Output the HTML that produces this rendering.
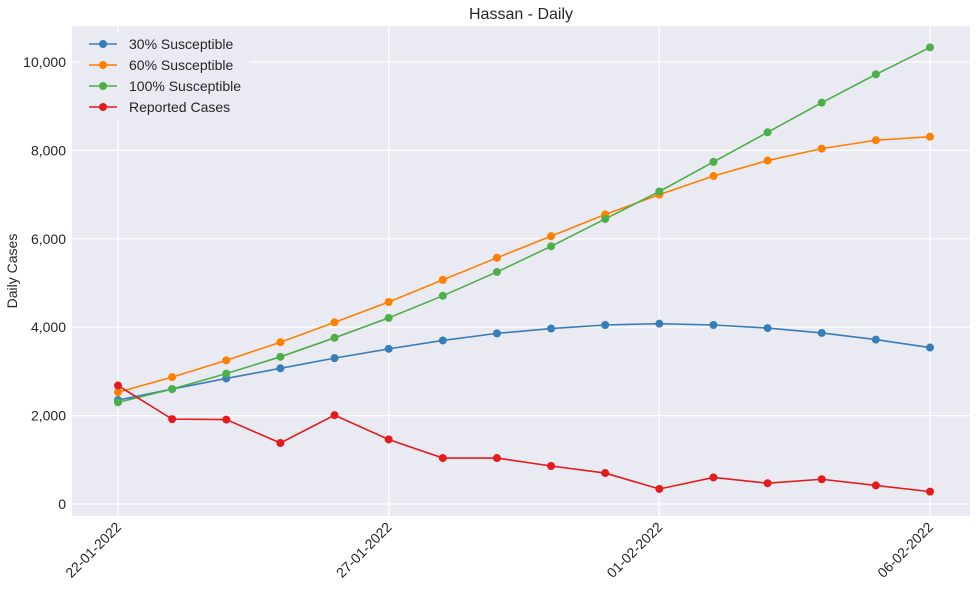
<!DOCTYPE html>
<html><head><meta charset="utf-8"><style>
body{margin:0;background:#fff;font-family:"Liberation Sans",Arial,sans-serif;}
svg text{font-family:"Liberation Sans",Arial,sans-serif;fill:#262626;}
</style></head><body>
<svg id="chart" width="977" height="591" xmlns="http://www.w3.org/2000/svg">
<rect x="72" y="26" width="898" height="490" fill="#eaeaf2"/>
<g id="grid"></g>
<g id="series"></g>
<g id="axes"></g>
<text x="521" y="19" font-size="16" text-anchor="middle">Hassan - Daily</text>
<text transform="translate(17,271) rotate(-90)" font-size="14" text-anchor="middle">Daily Cases</text>
<g id="legend"></g>
</svg>
<script>
const dates = ["22-01-2022","23-01-2022","24-01-2022","25-01-2022","26-01-2022","27-01-2022","28-01-2022","29-01-2022","30-01-2022","31-01-2022","01-02-2022","02-02-2022","03-02-2022","04-02-2022","05-02-2022","06-02-2022"];
const s30 = [2350,2600,2840,3070,3300,3510,3700,3860,3970,4050,4080,4050,3980,3870,3720,3540];
const s60 = [2530,2870,3250,3660,4110,4570,5070,5570,6060,6550,7000,7420,7770,8040,8230,8310];
const s100 = [2300,2600,2950,3330,3760,4210,4710,5250,5830,6450,7070,7740,8410,9080,9720,10330];
const reported = [2680,1920,1910,1380,2010,1460,1040,1040,860,700,340,600,470,560,420,280];
const yTicks = [0,2000,4000,6000,8000,10000];
const xTickIdx = [0,5,10,15];
const seriesNames = ["30% Susceptible","60% Susceptible","100% Susceptible","Reported Cases"];
const colors = ["#377eb8","#ff7f00","#4daf4a","#e41a1c"];

const NS="http://www.w3.org/2000/svg";
const x = i => 118 + i*(930-118)/(dates.length-1);
const y = v => 504 - v*(504-62)/10000;
function mk(tag, attrs, parent){const e=document.createElementNS(NS,tag);for(const k in attrs)e.setAttribute(k,attrs[k]);parent.appendChild(e);return e;}
const grid=document.getElementById('grid'), axes=document.getElementById('axes'), ser=document.getElementById('series'), leg=document.getElementById('legend');
yTicks.forEach(t=>{
  const l=mk('line',{x1:72,x2:970,y1:y(t),y2:y(t),stroke:'#fff','stroke-width':1.2},grid);
  
  
  const tx=mk('text',{x:66,y:y(t)+5,'font-size':14,'text-anchor':'end'},axes);
  tx.textContent=t.toLocaleString('en-US');
  
  
});
xTickIdx.forEach(i=>{
  const l=mk('line',{x1:x(i),x2:x(i),y1:26,y2:516,stroke:'#fff','stroke-width':1.2},grid);
  
  
  const tx=mk('text',{transform:`translate(${x(i)+4},${528}) rotate(-45)`,'font-size':14,'text-anchor':'end'},axes);
  tx.textContent=dates[i];
  
  
});
[s30,s60,s100,reported].forEach((arr,si)=>{
  const g=mk('g',{},ser);
  
  
  const p=mk('polyline',{points:arr.map((v,i)=>x(i)+','+y(v)).join(' '),fill:'none',stroke:colors[si],'stroke-width':1.6},g);
  
  
  arr.forEach((v,i)=>{
    const c=mk('circle',{cx:x(i),cy:y(v),r:4,fill:colors[si]},g);
    
    
  });
});
mk('rect',{x:80,y:32,width:170,height:88,fill:'#eaeaf2','fill-opacity':0.8,rx:3},leg);
seriesNames.forEach((n,i)=>{
  const yy=44+i*21;
  const e=mk('g',{},leg);
  
  
  mk('line',{x1:89,x2:117,y1:yy,y2:yy,stroke:colors[i],'stroke-width':1.6},e);
  mk('circle',{cx:103,cy:yy,r:4,fill:colors[i]},e);
  const t=mk('text',{x:129,y:yy+5,'font-size':14},e);
  t.textContent=n;
});
</script>
</body></html>
